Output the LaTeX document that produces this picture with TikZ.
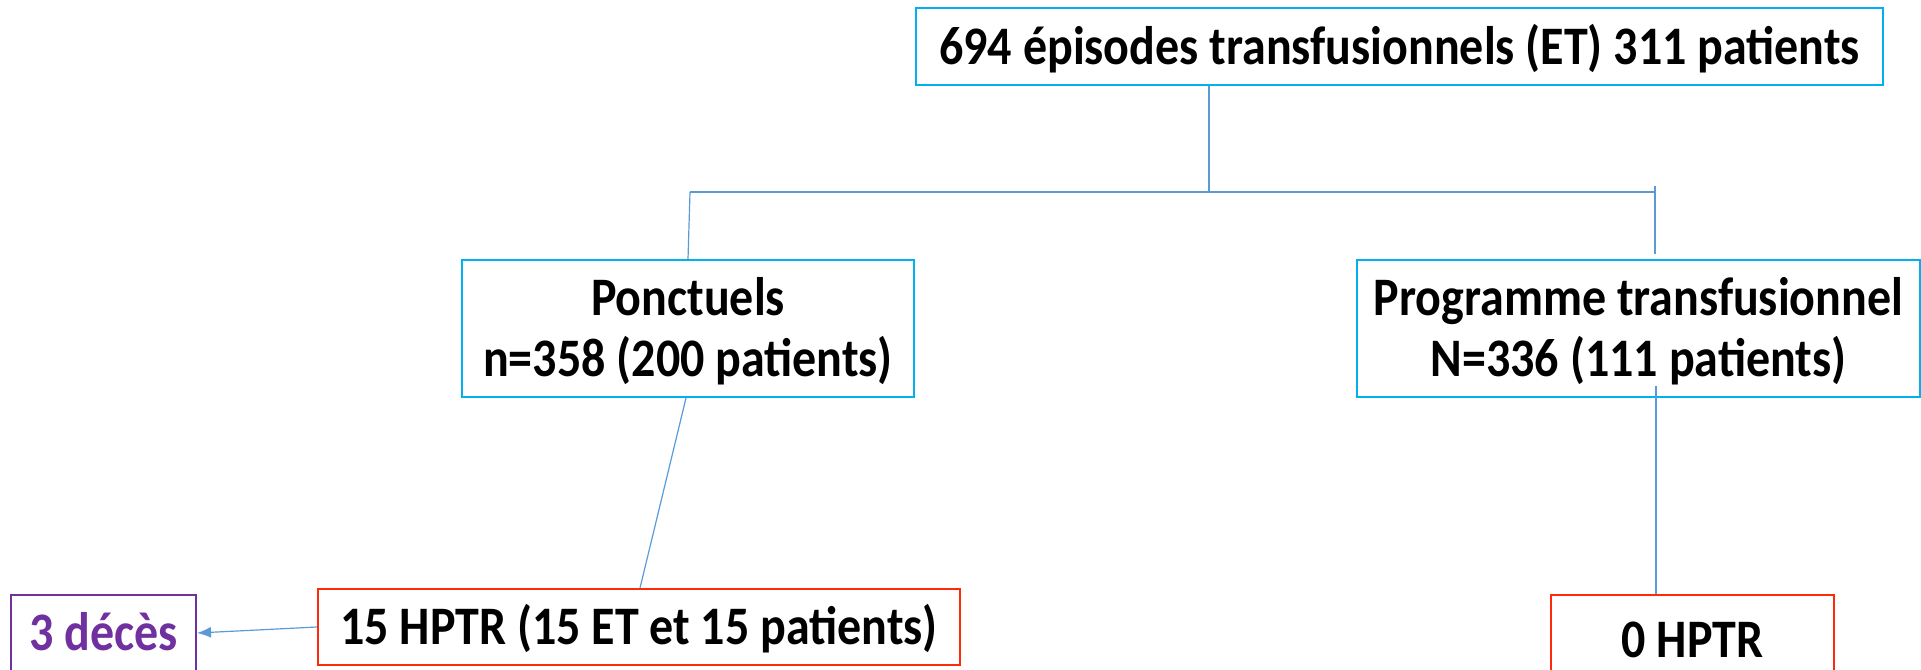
\documentclass[tikz,border=0pt]{standalone}
\usepackage{fontspec}
\usepackage{graphicx}
\setmainfont{Carlito}
\usetikzlibrary{arrows.meta}
\definecolor{boxcyan}{HTML}{00B0F0}
\definecolor{boxred}{HTML}{FF2A0A}
\definecolor{boxpurple}{HTML}{7030A0}
\definecolor{linkblue}{HTML}{5B9BD5}
\newcommand\vtxt[1]{\raisebox{-5.5pt}[\height][\depth]{\scalebox{1}[1.13]{\begin{tabular}{@{}c@{}}#1\end{tabular}}}}
\tikzset{
  box/.style={draw=boxcyan, line width=2pt, align=center, inner sep=0pt,
    font=\fontsize{48}{54}\selectfont\bfseries},
  redbox/.style={box, draw=boxred},
  purplebox/.style={box, draw=boxpurple, text=boxpurple},
  link/.style={draw=linkblue, line width=1.2pt},
}
\begin{document}
\begin{tikzpicture}[x=1pt,y=-1pt]
\useasboundingbox (0,0) rectangle (1921,669);
\node[box, minimum width=967pt, minimum height=76pt] (top) at (1399.5,46.5) {\vtxt{694 épisodes transfusionnels (ET) 311 patients}};
\node[box, minimum width=452pt, minimum height=137pt] (pon) at (688,328.5) {\vtxt{Ponctuels\\n=358 (200 patients)}};
\node[box, minimum width=563pt, minimum height=137pt] (prog) at (1638.5,328.5) {\vtxt{Programme transfusionnel\\N=336 (111 patients)}};
\node[redbox, minimum width=642pt, minimum height=76pt] (hptr) at (639,627) {\vtxt{15 HPTR (15 ET et 15 patients)}};
\node[purplebox, minimum width=185pt, minimum height=76pt] (deces) at (103.5,633) {\vtxt{3 décès}};
\node[redbox, minimum width=283pt, minimum height=90pt] (zero) at (1692.5,640) {\vtxt{0 HPTR}};
\coordinate (j) at (1209,192);
\coordinate (jl) at (690,192);
\coordinate (jr) at (1656,192);
\coordinate (jrt) at (1655,186);
\coordinate (jrb) at (1655,254);
\coordinate (pt) at (1656,386);
\draw[link] (top.south -| j) -- (j);
\draw[link] (jl) -- (jr);
\draw[link] (jl) -- ([xshift=-2pt]jl |- pon.north);
\draw[link] (jrt) -- (jrb);
\draw[link] ([xshift=-2pt]pon.south) -- ([xshift=1pt]hptr.north);
\draw[link] (pt) -- (pt |- zero.north);
\draw[link, -{Latex[length=14pt,width=11pt]}] (hptr.west) -- (deces.east);
\end{tikzpicture}
\end{document}
